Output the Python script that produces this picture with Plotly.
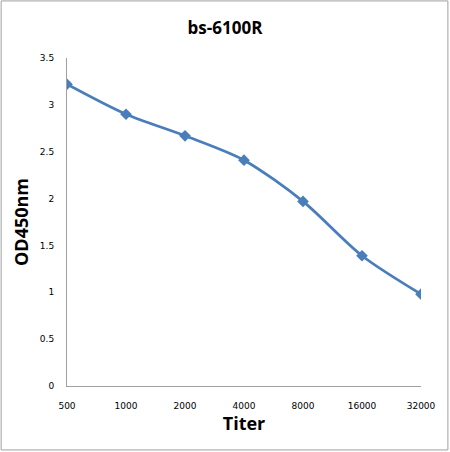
import plotly.graph_objects as go

# titer dilutions and OD450 readings
titer = ['500', '1000', '2000', '4000', '8000', '16000', '32000']
od450 = [3.22, 2.90, 2.67, 2.41, 1.97, 1.39, 0.98]

fig = go.Figure()
fig.add_trace(go.Scatter(
    x=titer, y=od450, mode='lines+markers',
    line=dict(color='#4a7ebb', width=2.8, shape='spline', smoothing=0.8),
    marker=dict(symbol='diamond', size=9, color='#4a7ebb'),
    showlegend=False))

fig.update_layout(
    width=450, height=452,
    margin=dict(l=67, r=29, t=58, b=66),
    paper_bgcolor='white', plot_bgcolor='white',
    title=dict(text='<b>bs-6100R</b>', x=0.5, xanchor='center', y=0.938, yanchor='middle',
               font=dict(family='Open Sans', size=17, color='black')),
    font=dict(family='DejaVu Sans', size=9, color='black'),
)
fig.update_xaxes(
    type='category', range=[0, 6],
    showline=True, linecolor='#a0a0a0', linewidth=1,
    showgrid=False, ticks='', ticklabelstandoff=11,
    title=dict(text='<b>Titer</b>', font=dict(family='Open Sans', size=18), standoff=6),
)
fig.update_yaxes(
    range=[0, 3.5], dtick=0.5,
    showline=True, linecolor='#a0a0a0', linewidth=1,
    showgrid=False, zeroline=False, ticks='', ticklabelstandoff=10,
    title=dict(text='<b>OD450nm</b>', font=dict(family='Open Sans', size=18), standoff=6),
)
# outer chart border
fig.add_shape(type='rect', xref='paper', yref='paper',
              x0=-0.186, x1=1.076, y0=-0.195, y1=1.174,
              line=dict(color='#a0a0a0', width=1))

fig.write_html("out.html", config={'displayModeBar': False},
               post_script="document.body.style.margin='0';")
